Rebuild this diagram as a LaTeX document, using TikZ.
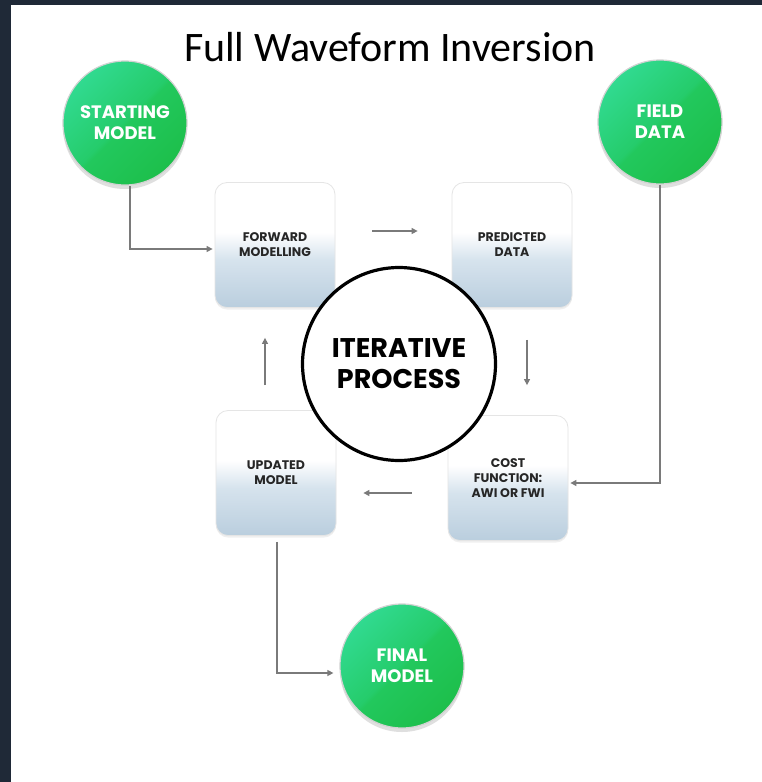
\documentclass[tikz,border=0pt]{standalone}
\usepackage{fontspec}
\setmainfont{Carlito}
\newfontfamily\pop{Poppins}
\usetikzlibrary{arrows.meta,calc,shadows}

\definecolor{frame}{HTML}{1F2937}
\definecolor{gDark}{HTML}{1DBF4B}
\definecolor{gMid}{HTML}{22C85D}
\definecolor{gHi}{HTML}{25CC6B}
\definecolor{gLight}{HTML}{31DA90}
\definecolor{bxLow}{HTML}{BACEDE}
\definecolor{bxMid}{HTML}{D6E3ED}
\definecolor{bxTxt}{HTML}{262626}
\definecolor{arrGray}{HTML}{7A7A7A}

% bottom-to-top fill of the process boxes: blue-grey base fading to white
\pgfdeclareverticalshading{boxshade}{100bp}{%
  color(0bp)=(bxLow); color(25bp)=(bxLow); color(44bp)=(bxMid);
  color(55bp)=(white); color(100bp)=(white)}
% green disc with a lighter upper-left half
\pgfdeclareverticalshading{greenshade}{100bp}{%
  color(0bp)=(gDark); color(25bp)=(gDark); color(49bp)=(gMid);
  color(51bp)=(gHi); color(75bp)=(gLight); color(100bp)=(gLight)}

\tikzset{
  disc/.style={circle, minimum size=124pt, inner sep=0pt,
    shade, shading=greenshade, shading angle=45,
    draw=gray!35, line width=1.2pt,
    drop shadow={opacity=0.25, shadow xshift=0pt, shadow yshift=-4pt},
    text=white, align=center,
    font=\pop\bfseries\fontsize{18}{21}\selectfont},
  procbox/.style={rounded corners=12pt, minimum width=120pt,
    minimum height=125pt, inner sep=0pt,
    shade, shading=boxshade, draw=gray!20, line width=0.8pt,
    drop shadow={opacity=0.12, shadow xshift=0pt, shadow yshift=-2pt},
    text=bxTxt, align=center,
    font=\pop\bfseries\fontsize{12.5}{15}\selectfont},
  hub/.style={circle, minimum size=193pt, inner sep=0pt, draw=black,
    line width=3.2pt, fill=white, align=center,
    font=\pop\bfseries\fontsize{27}{31}\selectfont},
  arr/.style={draw=arrGray, line width=1.3pt,
    -{Triangle[length=6pt,width=6pt]}}
}

\begin{document}
\begin{tikzpicture}[x=1pt,y=-1pt]
  % page and dark frame
  \fill[frame] (0,0) rectangle (762,782);
  \fill[white] (11,5) rectangle (762,782);
  \useasboundingbox (0,0) rectangle (762,782);

  \node[font=\fontsize{42}{46}\selectfont] (title) at (390,47) {Full Waveform Inversion};

  % process boxes
  \node[procbox] (fm) at (275,245) {FORWARD\\MODELLING};
  \node[procbox] (pd) at (512,245) {PREDICTED\\DATA};
  \node[procbox] (um) at (276,473) {UPDATED\\MODEL};
  \node[procbox] (cf) at (508,478) {COST\\FUNCTION:\\AWI OR FWI};

  % central loop label
  \node[hub] (ip) at (399,364) {ITERATIVE\\PROCESS};

  % inputs and output
  \node[disc] (sm) at (125,123) {STARTING\\MODEL};
  \node[disc] (fd) at (660,122) {FIELD\\DATA};
  \node[disc] (fn) at (402,666) {FINAL\\MODEL};

  % iteration loop
  \draw[arr, shorten <=37pt, shorten >=34pt]
    ($(fm.east)+(0,-14)$) -- ($(pd.west)+(0,-14)$);
  \draw[arr, shorten <=32pt, shorten >=30pt]
    ($(pd.south)+(15,0)$) -- ($(cf.north)+(19,0)$);
  \draw[arr, shorten <=36pt, shorten >=27pt]
    ($(cf.west)+(0,15)$) -- ($(um.east)+(0,20)$);
  \draw[arr, shorten <=25pt, shorten >=30pt]
    ($(um.north)+(-11,0)$) -- ($(fm.south)+(-10,0)$);

  % feeds into and out of the loop
  \draw[arr, shorten >=2pt] ($(sm.south)+(5,0)$) |- ($(fm.west)+(0,4)$);
  \draw[arr, shorten >=2pt] (fd.south) |- ($(cf.east)+(0,5)$);
  \draw[arr, shorten <=6pt, shorten >=6pt] ($(um.south)+(1,0)$) |- ($(fn.west)+(0,7)$);
\end{tikzpicture}
\end{document}
